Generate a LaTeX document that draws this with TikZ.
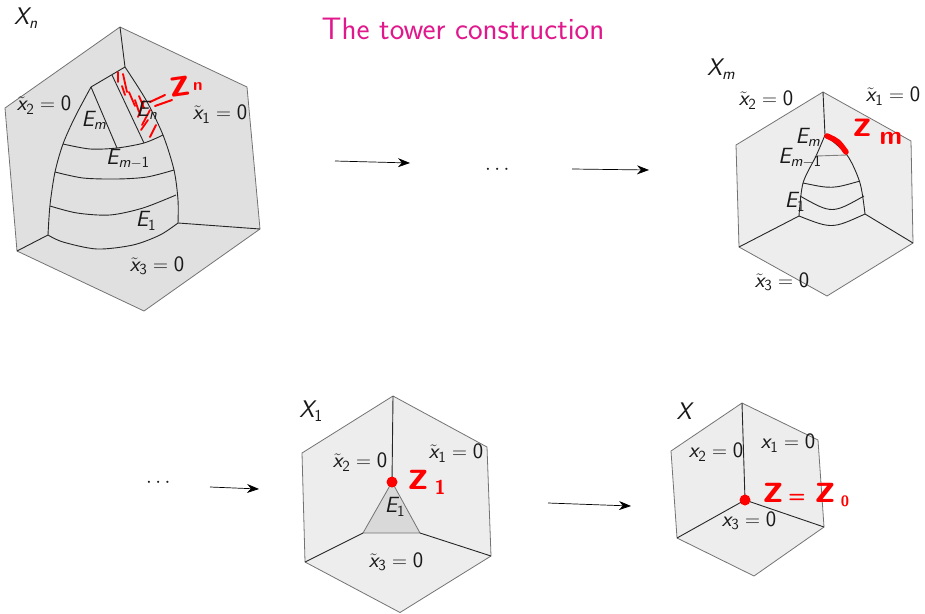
\documentclass[tikz,border=0pt]{standalone}
\usepackage{amsmath}
\usepackage{xcolor}
\usetikzlibrary{positioning}
\usetikzlibrary{arrows.meta}
\renewcommand{\familydefault}{\sfdefault}
\DeclareMathAlphabet{\mathsi}{TU}{lmss}{m}{sl}
\SetMathAlphabet{\mathsf}{normal}{TU}{lmss}{m}{n}
\definecolor{titlepink}{HTML}{E0188C}
\newcommand{\xt}[1]{$\tilde{\mathsi{x}}_{\mathsf{#1}} = \mathsf{0}$}
\newcommand{\xp}[1]{$\mathsi{x}_{\mathsf{#1}} = \mathsf{0}$}
\newcommand{\En}[1]{$\mathsi{E}_{#1}$}

\begin{document}
\begin{tikzpicture}[
                x=1pt, y=-1pt,
                hexdark/.style = {draw=black!55, fill=black!12, line width=0.8pt},
                hexlight/.style = {draw=black!55, fill=black!7, line width=0.8pt},
                inner line/.style = {draw=black!85, line width=0.9pt},
                arrow/.style = {-{Stealth[length=12pt, width=9pt]}, line width=0.7pt},
                % Stile per le etichette
                label text/.style = {inner sep=0pt, font=\fontsize{22}{24}\selectfont, text=black!90},
                space label/.style = {label text, font=\fontsize{24}{26}\selectfont},
                hand/.style = {inner sep=0pt, text=red, font=\fontsize{42}{42}\selectfont\bfseries},
                hand low/.style = {inner sep=0pt, text=red, font=\fontsize{20}{20}\selectfont\bfseries},
                pen/.style = {red, line width=1.8pt, line cap=round}
                ]
                \useasboundingbox (0,0) rectangle (925,613);

                \node[inner sep=0pt, text=titlepink, font=\fontsize{31}{33}\selectfont] (title) at (463,29) {The tower construction};

                % --- X_n ---
                \draw[hexdark] (120,27) -- (247,87) -- (260,229) -- (144,311) -- (17,251) -- (5,108) -- cycle;
                \draw[inner line] (120,27) -- (125,67);
                \draw[inner line] (48,235) -- (17,251);
                \draw[inner line] (178,223) -- (260,229);
                \draw[inner line] plot[smooth] coordinates {(125,67) (146,100) (163,135) (174,170) (178,200) (178,223)};
                \draw[inner line] plot[smooth] coordinates {(91,87) (75,117) (63,144) (55,172) (50,205) (48,235)};
                \draw[inner line] (91,87) -- (125,67);
                \draw[inner line] (91,87) -- (117,148);
                \draw[inner line] (112,75) -- (144,143);
                \draw[inner line] plot[smooth] coordinates {(63,144) (90,149) (117,148) (144,143) (163,135)};
                \draw[inner line] plot[smooth] coordinates {(55,172) (83,178) (117,179) (147,177) (174,170)};
                \draw[inner line] plot[smooth] coordinates {(50,206) (77,213) (110,215) (143,208) (176,195)};
                \draw[inner line] plot[smooth] coordinates {(48,235) (63,242) (97,249) (133,245) (160,235) (178,223)};

                % tratteggio rosso
                \foreach \xa/\ya/\xb/\yb in {118/72/118/82, 123/74/127/92, 129/92/135/106, 135/100/139/112,
                                             144/101/138/117, 150/110/142/125, 156/125/150/137, 148/120/141/130,
                                             122/86/125/95, 139/96/144/108} {
                    \draw[pen] (\xa,\ya) -- (\xb,\yb);
                }
                \draw[pen, line width=2pt] (150,102) -- (165,95);
                \draw[pen, line width=2pt] (155,106) -- (172,100);

                \node[space label] (Xn) at (26,18) {$\mathsi{X}_{\mathsi{n}}$};
                \node[label text] (xn2) at (44,105) {\xt{2}};
                \node[label text] (xn1) at (220,114) {\xt{1}};
                \node[label text] (xn3) at (157,266) {\xt{3}};
                \node[label text] (Emn) at (94,120) {\En{\mathsi{m}}};
                \node[label text] (Enn) at (147,110) {\En{\mathsi{n}}};
                \node[label text] (Eln) at (128,159) {\En{\mathsi{m}-\mathsf{1}}};
                \node[label text] (Efn) at (146,221) {\En{\mathsf{1}}};
                \node[hand, rotate=8] (zn) at (180,87) {z};
                \node[hand low, font=\fontsize{17}{17}\selectfont\bfseries] (zns) at (198,87) {n};

                % --- X_m ---
                \draw[hexlight] (823,92) -- (911,141) -- (913,243) -- (827,296) -- (739,247) -- (736,145) -- cycle;
                \draw[inner line] (823,92) -- (825,135);
                \draw[inner line] (799,216) -- (739,247);
                \draw[inner line] (865,214) -- (913,243);
                \draw[inner line] plot[smooth] coordinates {(825,135) (847,155) (860,183) (865,214)};
                \draw[inner line] plot[smooth] coordinates {(825,135) (816,156) (803,183) (799,216)};
                \draw[draw=black!50, line width=0.9pt] (816,156) -- (847,155);
                \draw[inner line] (803,183) .. controls (832,189) .. (860,181);
                \draw[inner line] (800,196) .. controls (832,214) .. (864,196);
                \draw[inner line] (799,216) .. controls (832,229) .. (865,214);
                \draw[red, line width=5.5pt, line cap=round] (827,136) .. controls (838,141) .. (846,152);

                \node[space label] (Xm) at (721,69) {$\mathsi{X}_{\mathsi{m}}$};
                \node[label text] (xm2) at (766,100) {\xt{2}};
                \node[label text] (xm1) at (893,96) {\xt{1}};
                \node[label text] (xm3) at (782,282) {\xt{3}};
                \node[label text] (Emm) at (808,137) {\En{\mathsi{m}}};
                \node[label text] (Elm) at (800,158) {\En{\mathsi{m}-\mathsf{1}}};
                \node[label text] (Efm) at (795,202) {\En{\mathsf{1}}};
                \node[hand, font=\fontsize{38}{38}\selectfont\bfseries] (zm) at (863,128) {z};
                \node[hand low, font=\fontsize{26}{26}\selectfont\bfseries] (zms) at (891,138) {m};

                % --- X_1 ---
                \draw[hexlight] (393,396) -- (487,447) -- (491,556) -- (400,612.5) -- (305,562) -- (302,453) -- cycle;
                \draw[draw=black!55, fill=black!15, line width=0.8pt] (392,482) -- (363,533) -- (420,533) -- cycle;
                \draw[inner line] (393,396) -- (392,482);
                \draw[inner line] (363,533) -- (305,562);
                \draw[inner line] (420,533) -- (491,556);
                \fill[red] (392,482) circle (5.5);

                \node[space label] (Xa) at (311,411) {$\mathsi{X}_{\mathsf{1}}$};
                \node[label text] (xa2) at (360,462) {\xt{2}};
                \node[label text] (xa1) at (456,453) {\xt{1}};
                \node[label text] (xa3) at (396,562) {\xt{3}};
                \node[label text] (Efa) at (395,507) {\En{\mathsf{1}}};
                \node[hand] (za) at (418,480) {z};
                \node[hand low] (zas) at (440,487) {1};

                % --- X ---
                \draw[hexlight] (742,403) -- (818,440) -- (824,527) -- (754,576) -- (677,538) -- (671,451) -- cycle;
                \draw[inner line] (742,403) -- (745,500);
                \draw[inner line] (745,500) -- (677,538);
                \draw[inner line] (745,500) -- (824,527);
                \fill[red] (745,500) circle (5.5);

                \node[space label] (Xz) at (684,411) {$\mathsi{X}$};
                \node[label text] (xz2) at (716,452) {\xp{2}};
                \node[label text] (xz1) at (788,443) {\xp{1}};
                \node[label text] (xz3) at (749,521) {\xp{3}};
                \node[hand] (zz) at (773,493) {z};
                \node[hand low] (zeq) at (797,498) {=};
                \node[hand] (zy) at (825,493) {z};
                \node[hand low, font=\fontsize{15}{15}\selectfont\bfseries] (zys) at (845,501) {0};

                % --- Frecce ---
                \coordinate (s1) at (335,161);
                \coordinate (t1) at (410,163);
                \coordinate (s2) at (572,169);
                \coordinate (t2) at (649,170);
                \coordinate (s3) at (210,487);
                \coordinate (t3) at (259,489);
                \coordinate (s4) at (548,503);
                \coordinate (t4) at (631,506);
                \foreach \i in {1,...,4} {
                    \draw[arrow] (s\i) -- (t\i);
                }

                \node[label text] (dotsa) at (499,170) {$\cdots$};
                \node[label text] (dotsb) at (160,483) {$\cdots$};
            \end{tikzpicture}
\end{document}
